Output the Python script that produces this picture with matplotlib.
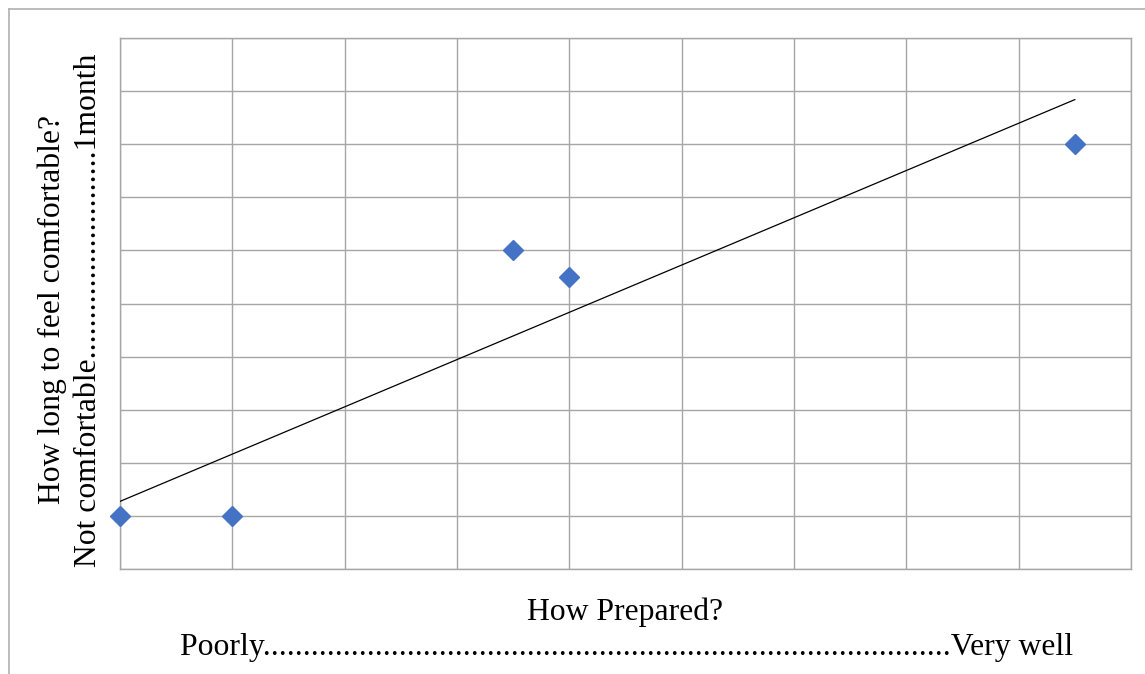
import numpy as np
import matplotlib.pyplot as plt
from matplotlib.lines import Line2D

# how prepared vs. how long to feel comfortable
prepared = [0, 1, 3.5, 4, 8.5]
comfort = [1, 1, 6, 5.5, 8]

x_title = "How Prepared?"
x_scale = "Poorly" + "." * 86 + "Very well"
y_title = "How long to feel comfortable?"
y_scale = "Not comfortable" + "." * 26 + "1month"

plt.rcParams['font.family'] = ['Liberation Serif', 'DejaVu Serif']
fs = 22.8

fig = plt.figure(figsize=(11.45, 6.74), dpi=100)
ax = fig.add_axes([120/1145, 1-569/674, (1131-120)/1145, (569-38)/674])

grid_col = '#a6a6a6'
ax.set_xlim(0, 9)
ax.set_ylim(0, 10)
ax.set_xticks(np.arange(0, 10))
ax.set_yticks(np.arange(0, 11))
ax.tick_params(length=0, labelbottom=False, labelleft=False)
ax.grid(True, color=grid_col, lw=1.0)
for s in ax.spines.values():
    s.set_color(grid_col)
    s.set_linewidth(1.0)

# linear trendline
k, b = np.polyfit(prepared, comfort, 1)
xt = np.array([min(prepared), max(prepared)])
ax.plot(xt, k*xt + b, color='black', lw=0.9, zorder=3)

ax.plot(prepared, comfort, 'D', color='#4472c4', markersize=10.5,
        clip_on=False, zorder=4)

# axis titles
fig.text(625/1145, 1-620/674, x_title, ha='center', va='baseline', fontsize=fs)
fig.text(627/1145, 1-655/674, x_scale, ha='center', va='baseline', fontsize=fs)
fig.text(52/1145, 1-310/674, y_title, ha='center', va='center',
         rotation=90, fontsize=fs)
fig.text(89/1145, 1-310/674, y_scale, ha='center', va='center',
         rotation=90, fontsize=fs)

# outer chart border
fig.add_artist(Line2D([9/1145, 1], [1-9/674, 1-9/674], color='#b0b0b0', lw=1.2))
fig.add_artist(Line2D([9/1145, 9/1145], [0, 1-9/674], color='#b0b0b0', lw=1.2))

fig.savefig('out.png', dpi=100)
